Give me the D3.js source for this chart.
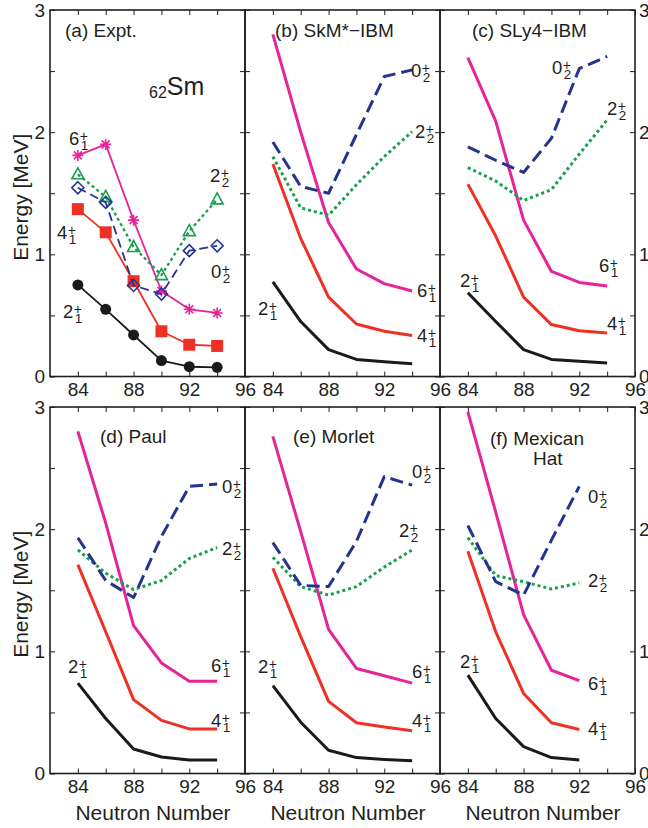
<!DOCTYPE html>
<html>
<head>
<meta charset="utf-8">
<script src="https://cdn.jsdelivr.net/npm/d3@7"></script>
<style>
  body { margin: 0; background: #fff; }
  svg text { font-family: "Liberation Sans", Arial, Helvetica, sans-serif; fill: #231f20; }
</style>
</head>
<body>
<svg id="chart" width="648" height="828"></svg>
<script>
// neutron numbers and state order
const neutronN = [84, 86, 88, 90, 92, 94];
const states = ["2_1", "4_1", "6_1", "0_2", "2_2"];

// energies [MeV], rows follow `states`
const exptE = [
  [0.75, 0.55, 0.34, 0.13, 0.08, 0.075],
  [1.37, 1.18, 0.78, 0.37, 0.26, 0.25],
  [1.81, 1.90, 1.28, 0.70, 0.55, 0.52],
  [1.545, 1.425, 0.745, 0.675, 1.03, 1.07],
  [1.655, 1.47, 1.06, 0.83, 1.19, 1.45]
];
const skmE = [
  [0.775, 0.45, 0.22, 0.14, 0.12, 0.105],
  [1.74, 1.13, 0.65, 0.43, 0.37, 0.335],
  [2.80, 2.00, 1.26, 0.88, 0.76, 0.70],
  [1.92, 1.555, 1.50, 1.98, 2.455, 2.51],
  [1.80, 1.38, 1.32, 1.57, 1.80, 2.005]
];
const sly4E = [
  [0.685, 0.45, 0.22, 0.14, 0.125, 0.11],
  [1.575, 1.15, 0.65, 0.425, 0.375, 0.357],
  [2.61, 2.09, 1.28, 0.86, 0.77, 0.74],
  [1.88, 1.77, 1.67, 1.95, 2.52, 2.62],
  [1.71, 1.60, 1.44, 1.53, 1.82, 2.10]
];
const paulE = [
  [0.74, 0.45, 0.20, 0.135, 0.11, 0.11],
  [1.71, 1.16, 0.605, 0.435, 0.365, 0.365],
  [2.80, 2.05, 1.21, 0.905, 0.755, 0.755],
  [1.93, 1.58, 1.44, 1.94, 2.35, 2.37],
  [1.83, 1.64, 1.505, 1.58, 1.76, 1.85]
];
const morletE = [
  [0.72, 0.42, 0.19, 0.13, 0.115, 0.105],
  [1.68, 1.12, 0.59, 0.415, 0.38, 0.35],
  [2.76, 1.98, 1.18, 0.86, 0.80, 0.74],
  [1.89, 1.54, 1.53, 1.90, 2.43, 2.36],
  [1.77, 1.53, 1.46, 1.53, 1.69, 1.83]
];
// Mexican hat stops at N=92
const mexhatE = [
  [0.805, 0.45, 0.22, 0.13, 0.11],
  [1.82, 1.16, 0.655, 0.415, 0.36],
  [2.96, 2.14, 1.30, 0.845, 0.76],
  [2.03, 1.57, 1.46, 1.91, 2.35],
  [1.93, 1.62, 1.57, 1.51, 1.56]
];

const xTicks = [84, 86, 88, 90, 92, 94, 96];
const yTicks = [0, 0.5, 1, 1.5, 2, 2.5, 3];

const colors = { "2_1": "#1a1a1a", "4_1": "#ee3124", "6_1": "#e5239a", "0_2": "#25338f", "2_2": "#18a04b" };
const dashes = { "0_2": "13,6", "2_2": "3,3" };

const svg = d3.select("#chart");

const panels = [
  { data: exptE, col: 0, row: 0, title: ["(a) Expt."], tx: 65, ty: 37, expt: true,
    labels: { "6_1": [69, 145], "4_1": [57, 239], "2_1": [63, 318], "2_2": [210, 182], "0_2": [211, 278] } },
  { data: skmE, col: 1, row: 0, title: ["(b) SkM*\u2212IBM"], tx: 275, ty: 37,
    labels: { "0_2": [411, 77], "2_2": [415, 138], "6_1": [417, 297], "4_1": [417, 342], "2_1": [258, 315] } },
  { data: sly4E, col: 2, row: 0, title: ["(c) SLy4\u2212IBM"], tx: 472, ty: 37,
    labels: { "0_2": [552, 74], "2_2": [607, 115], "6_1": [599, 272], "4_1": [607, 330], "2_1": [460, 287] } },
  { data: paulE, col: 0, row: 1, title: ["(d) Paul"], tx: 100, ty: 443,
    labels: { "0_2": [222, 493], "2_2": [222, 555], "6_1": [211, 672], "4_1": [211, 727], "2_1": [68, 673] } },
  { data: morletE, col: 1, row: 1, title: ["(e) Morlet"], tx: 293, ty: 443,
    labels: { "0_2": [412, 478], "2_2": [399, 537], "6_1": [412, 678], "4_1": [412, 727], "2_1": [258, 673] } },
  { data: mexhatE, col: 2, row: 1, title: ["(f) Mexican", "Hat"], tx: 490, ty: 445,
    labels: { "0_2": [588, 503], "2_2": [588, 587], "6_1": [588, 690], "4_1": [588, 735], "2_1": [460, 668] } }
];

const colX = [50, 245, 440], pw = 195;
const rowY = [10, 407], ph = 366.5;

// "2" with a stacked "+" above and the index below
function stateLabel(g, x, y, key) {
  const [main, sub] = key.split("_");
  const t = g.append("text").attr("x", x).attr("y", y).attr("font-size", 18.5).text(main);
  const w = t.node().getComputedTextLength();
  g.append("text").attr("x", x + w + 0.5).attr("y", y - 4).attr("font-size", 14).text("+");
  g.append("text").attr("x", x + w + 1.5).attr("y", y + 5).attr("font-size", 13.5).text(sub);
}

function marker(g, key, cx, cy) {
  const c = colors[key];
  if (key === "2_1") {
    g.append("circle").attr("cx", cx).attr("cy", cy).attr("r", 5.5).attr("fill", c);
  } else if (key === "4_1") {
    g.append("rect").attr("x", cx - 6).attr("y", cy - 6).attr("width", 12).attr("height", 12).attr("fill", c);
  } else if (key === "6_1") {
    const r = 5.5, d = r * 0.72;
    g.append("path")
      .attr("d", `M${cx - r},${cy}H${cx + r}M${cx},${cy - r}V${cy + r}M${cx - d},${cy - d}L${cx + d},${cy + d}M${cx - d},${cy + d}L${cx + d},${cy - d}`)
      .attr("stroke", c).attr("stroke-width", 1.6).attr("fill", "none");
  } else if (key === "0_2") {
    g.append("path").attr("d", `M${cx},${cy - 6}L${cx + 6},${cy}L${cx},${cy + 6}L${cx - 6},${cy}Z`)
      .attr("stroke", c).attr("stroke-width", 1.6).attr("fill", "none");
  } else {
    g.append("path").attr("d", `M${cx},${cy - 6.5}L${cx + 6},${cy + 4.5}L${cx - 6},${cy + 4.5}Z`)
      .attr("stroke", c).attr("stroke-width", 1.6).attr("fill", "none");
  }
}

panels.forEach(p => {
  const x0 = colX[p.col], y0 = rowY[p.row];
  const x = d3.scaleLinear().domain([82, 96]).range([x0, x0 + pw]);
  const y = d3.scaleLinear().domain([0, 3]).range([y0 + ph, y0]);
  const g = svg.append("g");

  // ticks on all sides, pointing inwards
  const fmtX = d => (d % 4 === 0 ? d : "");
  const fmtY = d => (Number.isInteger(d) ? d : "");
  const ax = [
    g.append("g").attr("transform", `translate(0,${y0 + ph})`)
      .call(d3.axisBottom(x).tickValues(xTicks).tickSize(-5).tickPadding(6).tickFormat(fmtX)),
    g.append("g").attr("transform", `translate(0,${y0})`)
      .call(d3.axisTop(x).tickValues(xTicks).tickSize(-5).tickFormat("")),
    g.append("g").attr("transform", `translate(${x0},0)`)
      .call(d3.axisLeft(y).tickValues(yTicks).tickSize(-5).tickPadding(5).tickFormat(p.col === 0 ? fmtY : "")),
    g.append("g").attr("transform", `translate(${x0 + pw},0)`)
      .call(d3.axisRight(y).tickValues(yTicks).tickSize(-5).tickPadding(4).tickFormat(p.col === 2 ? fmtY : ""))
  ];
  ax.forEach(a => {
    a.select(".domain").remove();
    a.selectAll("line").attr("stroke", "#231f20").attr("stroke-width", 1);
    a.selectAll("text").attr("font-size", 19).attr("font-family", null).attr("fill", "#231f20");
  });
  g.append("rect").attr("x", x0).attr("y", y0).attr("width", pw).attr("height", ph)
    .attr("fill", "none").attr("stroke", "#231f20").attr("stroke-width", 1.6);

  const line = d3.line().x(d => x(d[0])).y(d => y(d[1]));
  const order = ["2_1", "4_1", "6_1", "2_2", "0_2"];
  order.forEach(key => {
    const vals = p.data[states.indexOf(key)];
    const pts = vals.map((v, i) => [neutronN[i], v]);
    g.append("path").attr("d", line(pts))
      .attr("fill", "none")
      .attr("stroke", colors[key])
      .attr("stroke-width", p.expt ? (key === "2_2" ? 2.4 : 1.8) : 3)
      .attr("stroke-dasharray", dashes[key] ? (p.expt && key === "0_2" ? "9,5" : dashes[key]) : null)
      .attr("stroke-linejoin", "round");
    if (p.expt) pts.forEach(d => marker(g, key, x(d[0]), y(d[1])));
  });

  p.title.forEach((t, i) => {
    g.append("text").attr("x", i === 0 ? p.tx : p.tx + 43).attr("y", p.ty + i * 20)
      .attr("font-size", 19).text(t);
  });
  Object.entries(p.labels).forEach(([key, pos]) => stateLabel(g, pos[0], pos[1], key));

  if (p.row === 1) {
    g.append("text").attr("x", x0 + 103).attr("y", 820).attr("text-anchor", "middle")
      .attr("font-size", 21).text("Neutron Number");
  }
  if (p.col === 0) {
    g.append("text").attr("transform", `translate(28,${y0 + ph / 2 + 4}) rotate(-90)`)
      .attr("text-anchor", "middle").attr("font-size", 21).text("Energy [MeV]");
  }
});

// nucleus label
const nuc = svg.append("text").attr("x", 149).attr("y", 95);
nuc.append("tspan").attr("font-size", 16).attr("dy", 3).text("62");
nuc.append("tspan").attr("font-size", 25).attr("dy", -3).text("Sm");
</script>
</body>
</html>
